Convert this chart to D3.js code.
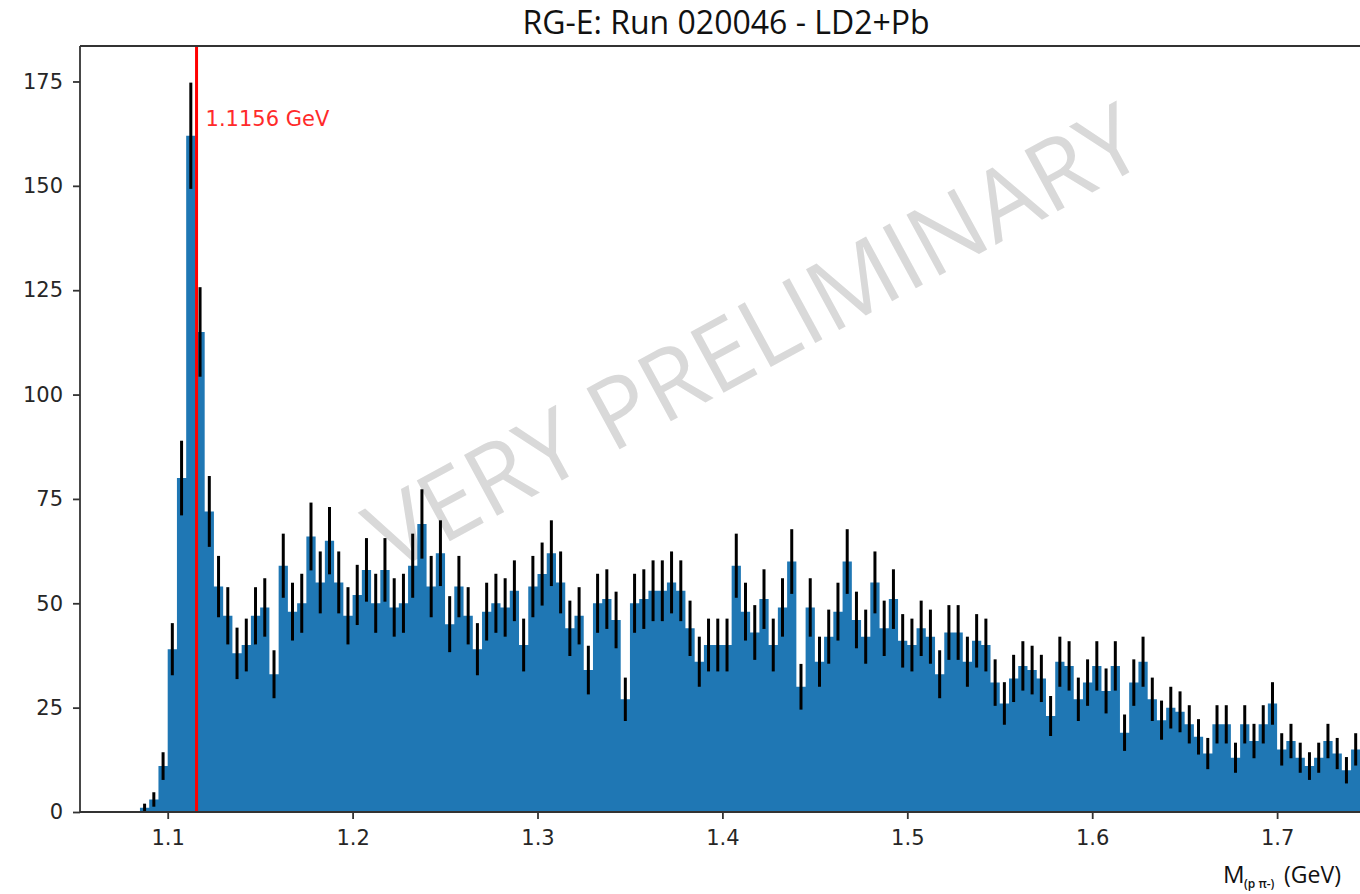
<!DOCTYPE html>
<html>
<head>
<meta charset="utf-8">
<script src="https://cdn.jsdelivr.net/npm/d3@7"></script>
<style>
  html, body { margin: 0; padding: 0; background: #ffffff; }
  svg { display: block; }
</style>
</head>
<body>
<svg id="chart" width="1360" height="894"></svg>
<script>
// Invariant mass histogram, p pi- pairs, 5 MeV bins starting at 1.085 GeV
const binLow = 1.085;
const binWidth = 0.005;
const counts = [
  1, 3, 11, 39, 80, 162, 115, 72, 54, 47,
  38, 40, 47, 49, 33, 59, 48, 50, 66, 55,
  65, 55, 47, 52, 58, 50, 58, 49, 50, 59,
  69, 54, 62, 45, 54, 47, 39, 48, 50, 49,
  53, 40, 54, 57, 62, 55, 44, 47, 34, 50,
  51, 46, 27, 50, 51, 53, 53, 55, 53, 44,
  36, 40, 40, 40, 59, 48, 43, 51, 40, 49,
  60, 30, 49, 36, 42, 48, 60, 46, 42, 55,
  44, 51, 41, 40, 44, 42, 33, 43, 43, 36,
  41, 40, 31, 26, 32, 35, 34, 32, 23, 36,
  35, 27, 31, 35, 29, 35, 19, 31, 36, 27,
  22, 25, 24, 21, 18, 14, 21, 21, 13, 21,
  17, 21, 26, 15, 17, 13, 11, 13, 17, 14,
  10, 15
];
const xTicks = [1.1, 1.2, 1.3, 1.4, 1.5, 1.6, 1.7];
const yTicks = [0, 25, 50, 75, 100, 125, 150, 175];
const lambdaMass = 1.1156;
const xDomain = [1.05257, 1.75024];
const yDomain = [0, 183.5];

const titleText = "RG-E: Run 020046 - LD2+Pb";
const watermarkText = "VERY PRELIMINARY";
const massLabel = "1.1156 GeV";

const svg = d3.select("#chart");
const plot = { left: 80, right: 1370, top: 46, bottom: 812 };

const x = d3.scaleLinear().domain(xDomain).range([plot.left, plot.right]);
const y = d3.scaleLinear().domain(yDomain).range([plot.bottom, plot.top]);

const bins = counts.map((c, i) => ({
  x0: binLow + i * binWidth,
  x1: binLow + (i + 1) * binWidth,
  count: c
}));

svg.append("rect").attr("width", 1360).attr("height", 894).attr("fill", "#ffffff");

svg.append("defs").append("clipPath").attr("id", "plotClip")
  .append("rect")
  .attr("x", plot.left).attr("y", plot.top)
  .attr("width", plot.right - plot.left).attr("height", plot.bottom - plot.top);

// watermark sits underneath the data
svg.append("text")
  .attr("transform", "translate(752,334) rotate(-28.5)")
  .attr("text-anchor", "middle")
  .attr("dominant-baseline", "central")
  .attr("font-family", "'Open Sans', 'Noto Sans', sans-serif")
  .attr("font-weight", 400)
  .attr("font-size", 97)
  .attr("fill", "#d9d9d9")
  .text(watermarkText);

const g = svg.append("g").attr("clip-path", "url(#plotClip)");

// histogram drawn as one stepped outline so neighbouring bins join without seams
const stepPts = [];
bins.forEach(d => {
  stepPts.push([d.x0, d.count]);
  stepPts.push([d.x1, d.count]);
});
const area = d3.area()
  .x(p => x(p[0]))
  .y0(y(0))
  .y1(p => y(p[1]));
g.append("path")
  .datum(stepPts)
  .attr("d", area)
  .attr("fill", "#1f77b4");

// Poisson error bars
g.selectAll("line.err")
  .data(bins.filter(d => d.count > 0))
  .join("line")
  .attr("class", "err")
  .attr("x1", d => x((d.x0 + d.x1) / 2))
  .attr("x2", d => x((d.x0 + d.x1) / 2))
  .attr("y1", d => y(d.count - Math.sqrt(d.count)))
  .attr("y2", d => y(d.count + Math.sqrt(d.count)))
  .attr("stroke", "#000000")
  .attr("stroke-width", 3);

// Lambda mass marker
g.append("line")
  .attr("x1", x(lambdaMass)).attr("x2", x(lambdaMass))
  .attr("y1", plot.top).attr("y2", plot.bottom)
  .attr("stroke", "#ff0000")
  .attr("stroke-width", 3);

svg.append("text")
  .attr("x", x(lambdaMass) + 9)
  .attr("y", 126)
  .attr("font-family", "'DejaVu Sans', sans-serif")
  .attr("font-size", 21)
  .attr("fill", "#ff2a2a")
  .text(massLabel);

// axes
const axisFont = "'DejaVu Sans', sans-serif";
const xAxis = svg.append("g")
  .attr("transform", `translate(0,${plot.bottom})`)
  .call(d3.axisBottom(x).tickValues(xTicks).tickFormat(d3.format(".1f")).tickSize(7).tickPadding(11));
const yAxis = svg.append("g")
  .attr("transform", `translate(${plot.left},0)`)
  .call(d3.axisLeft(y).tickValues(yTicks).tickFormat(d3.format("d")).tickSize(7).tickPadding(10));

[xAxis, yAxis].forEach(a => {
  a.select(".domain").remove();
  a.selectAll(".tick line").attr("stroke", "#333333").attr("stroke-width", 1.8);
  a.selectAll(".tick text")
    .attr("font-family", axisFont)
    .attr("font-size", 21)
    .attr("fill", "#262626");
});

// frame (left, top, bottom visible)
const spine = svg.append("g").attr("stroke", "#333333").attr("stroke-width", 1.8).attr("fill", "none");
spine.append("line").attr("x1", plot.left).attr("x2", plot.left).attr("y1", plot.top).attr("y2", plot.bottom);
spine.append("line").attr("x1", plot.left).attr("x2", plot.right).attr("y1", plot.bottom).attr("y2", plot.bottom);
spine.append("line").attr("x1", plot.left).attr("x2", plot.right).attr("y1", plot.top).attr("y2", plot.top);
spine.append("line").attr("x1", plot.right).attr("x2", plot.right).attr("y1", plot.top).attr("y2", plot.bottom);

// title
svg.append("text")
  .attr("x", 726)
  .attr("y", 34)
  .attr("text-anchor", "middle")
  .attr("font-family", "'Open Sans', 'Noto Sans', sans-serif")
  .attr("font-size", 32)
  .attr("fill", "#111111")
  .text(titleText);

// x-axis label with subscript
const xl = svg.append("text")
  .attr("y", 883)
  .attr("font-family", "'Open Sans', 'Noto Sans', sans-serif")
  .attr("fill", "#111111");
xl.append("tspan").attr("x", 1223).attr("font-size", 24).text("M");
xl.append("tspan").attr("x", 1244).attr("dy", 5).attr("font-size", 12).attr("font-weight", 600).text("(p π-)");
xl.append("tspan").attr("x", 1284).attr("dy", -5).attr("font-size", 23).text("(GeV)");
</script>
</body>
</html>
